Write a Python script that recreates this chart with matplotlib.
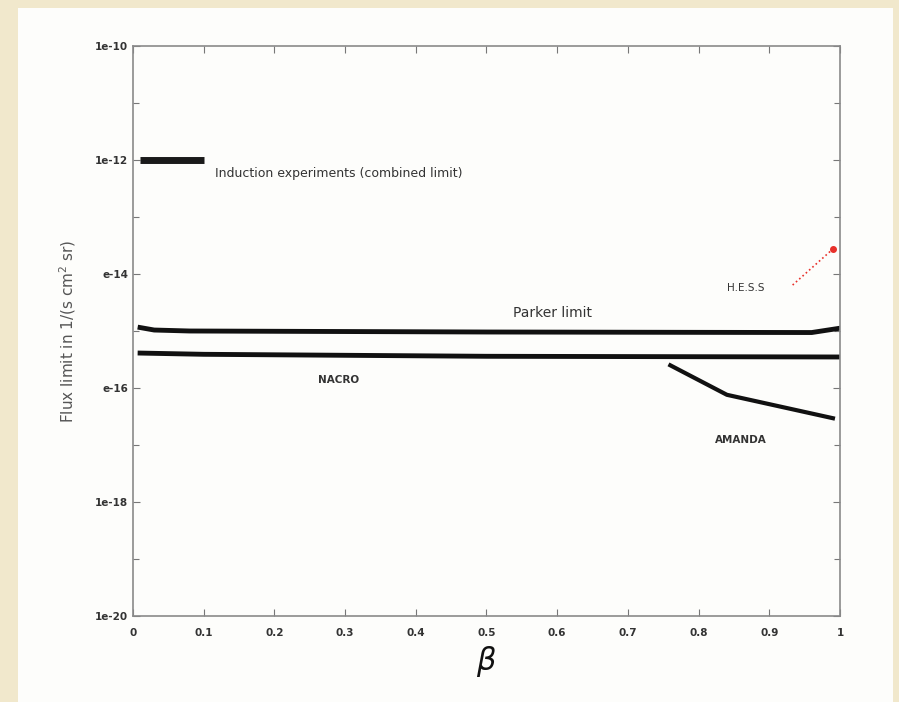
import matplotlib.pyplot as plt
from matplotlib.patches import Rectangle
from matplotlib.ticker import NullFormatter

# data (flux in 1/(s cm^2 sr))
induction_beta = [0.01, 0.10]
induction_flux = [1e-12, 1e-12]

parker_beta = [0.01, 0.03, 0.08, 0.5, 0.96, 1.0]
parker_flux = [1.15e-15, 1.04e-15, 1.0e-15, 9.6e-16, 9.4e-16, 1.12e-15]

macro_beta = [0.01, 0.1, 0.5, 1.0]
macro_flux = [4.1e-16, 3.9e-16, 3.6e-16, 3.5e-16]

amanda_beta = [0.76, 0.84, 0.99]
amanda_flux = [2.5e-16, 7.6e-17, 2.95e-17]

hess_beta = [0.99]
hess_flux = [2.75e-14]

ytick_vals = [1e-10, 1e-12, 1e-14, 1e-16, 1e-18, 1e-20]
ytick_labels = ["1e-10", "1e-12", "e-14", "e-16", "1e-18", "1e-20"]
xtick_vals = [0, 0.1, 0.2, 0.3, 0.4, 0.5, 0.6, 0.7, 0.8, 0.9, 1]
xtick_labels = ["0", "0.1", "0.2", "0.3", "0.4", "0.5", "0.6", "0.7", "0.8", "0.9", "1"]

fig = plt.figure(figsize=(8.99, 7.02), dpi=100)
fig.patch.set_facecolor("#f1e8cc")
# white slide panel
fig.patches.append(Rectangle((18 / 899, 0), 875 / 899, 694 / 702,
                             transform=fig.transFigure, facecolor="#fdfdfb",
                             edgecolor="none", zorder=-5))

ax = fig.add_axes([133 / 899, 1 - 616 / 702, 707 / 899, 570 / 702])
ax.set_zorder(2)
ax.set_facecolor("#fdfdfb")

ax.plot(induction_beta, induction_flux, color="#1a1a1a", lw=5, solid_capstyle="butt")
ax.plot(parker_beta, parker_flux, color="#111111", lw=3.5)
ax.plot(macro_beta, macro_flux, color="#111111", lw=3.5)
ax.plot(amanda_beta, amanda_flux, color="#111111", lw=3)
ax.plot(hess_beta, hess_flux, "o", color="#e8302a", ms=4)
ax.plot([0.933, 0.99], [6.4e-15, 2.75e-14], ":", color="#e8302a", lw=1.2)

ax.set_yscale("log")
ax.set_xlim(0, 1)
ax.set_ylim(1e-20, 1e-10)

ax.set_xticks(xtick_vals)
ax.set_xticklabels(xtick_labels)
ax.set_yticks(ytick_vals)
ax.set_yticklabels(ytick_labels)
ax.set_yticks([1e-11, 1e-13, 1e-15, 1e-17, 1e-19], minor=True)
ax.yaxis.set_minor_formatter(NullFormatter())
ax.tick_params(axis="both", which="both", direction="in", top=True, right=True,
               colors="#777777", labelcolor="#333333", labelsize=7.5, length=5, width=0.8)
ax.tick_params(axis="y", which="minor", length=4)
ax.tick_params(axis="x", pad=9)
for lab in ax.get_xticklabels() + ax.get_yticklabels():
    lab.set_fontweight("bold")
for s in ax.spines.values():
    s.set_color("#8a8a8a")
    s.set_linewidth(1.2)

ax.text(0.116, 5.9e-13, "Induction experiments (combined limit)", fontsize=9,
        color="#333333", va="center")
ax.text(0.594, 2.1e-15, "Parker limit", fontsize=10, color="#333333",
        ha="center", va="center")
ax.text(0.262, 1.38e-16, "NACRO", fontsize=7.5, color="#333333",
        fontweight="bold", va="center")
ax.text(0.823, 1.23e-17, "AMANDA", fontsize=7.5, color="#333333",
        fontweight="bold", va="center")
ax.text(0.84, 5.6e-15, "H.E.S.S", fontsize=7.5, color="#333333", va="center")

ax.set_xlabel(r"$\beta$", fontsize=22, color="#111111", labelpad=4)
ax.set_ylabel("Flux limit in 1/(s cm$^2$ sr)", fontsize=11, color="#555555", labelpad=12)

fig.savefig("out.png", dpi=100, facecolor=fig.get_facecolor())
